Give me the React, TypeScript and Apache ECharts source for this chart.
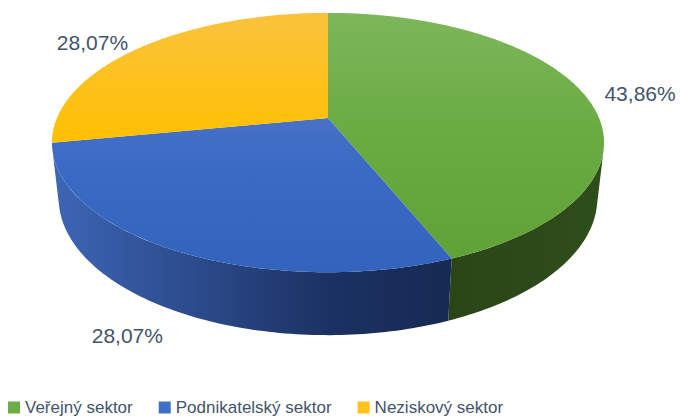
import React, { useEffect, useRef } from "react";
import * as echarts from "echarts";

const categories = ["Veřejný sektor", "Podnikatelský sektor", "Neziskový sektor"];
const values = [43.86, 28.07, 28.07];
const valueLabels = ["43,86%", "28,07%", "28,07%"];

const legendColors = ["#6AAE45", "#3F6FC6", "#FFC21A"];
const topStops = [
  [[0, "#7DB65B"], [0.45, "#6AAC42"], [1, "#5EA135"]],
  [[0, "#5D83CC"], [0.6, "#3B6AC4"], [1, "#3463BD"]],
  [[0, "#FAC33E"], [0.5, "#FFC000"], [1, "#E5AF00"]],
];
// side gradients, left to right
const sideStops = [
  [[0, "#2A4617"], [1, "#2E4E1B"]],
  [[0, "#3D66B6"], [0.7, "#1B3162"], [1, "#162A52"]],
  [[0, "#8A6A00"], [1, "#6A5000"]],
];

// projection (visual constants)
const CX = 328;
const CY = 118;
const FX = 1263;
const FY = 1241;
const PHI = (28 * Math.PI) / 180;
const SINP = Math.sin(PHI);
const COSP = Math.cos(PHI);
const DIST = 4.66;
const THICK = 0.239;

function project(theta: number, k: number, z: number): number[] {
  const X = k * Math.cos(theta);
  const Y = k * Math.sin(theta);
  const Z = DIST - Y * COSP - z * SINP;
  return [CX + (FX * X) / Z, CY + (FY * (Y * SINP - z * COSP)) / Z];
}

const TS = Math.asin(1 / (DIST * COSP));
const FRONT = [
  [TS, Math.PI - TS],
  [TS + 2 * Math.PI, 3 * Math.PI - TS],
];

function arcPts(a: number, b: number, z: number): number[][] {
  const n = Math.max(2, Math.ceil(((b - a) * 180) / Math.PI));
  const pts: number[][] = [];
  for (let i = 0; i <= n; i++) pts.push(project(a + ((b - a) * i) / n, 1, z));
  return pts;
}

export default function App() {
  const ref = useRef<HTMLDivElement>(null);
  useEffect(() => {
    document.body.style.margin = "0";
    const chart = echarts.init(ref.current!, null, { renderer: "svg" });
    const total = values.reduce((s, v) => s + v, 0);

    const series = categories.map((name, idx) => ({
      type: "custom",
      name,
      coordinateSystem: "none",
      itemStyle: { color: legendColors[idx] },
      data: [[values[idx]]],
      renderItem: (params: any, api: any) => {
        const before = values.slice(0, idx).reduce((s, v) => s + v, 0);
        const start = -Math.PI / 2 + (before / total) * 2 * Math.PI;
        const end = start + (api.value(0) / total) * 2 * Math.PI;
        const children: any[] = [];
        // visible outer side
        for (const [fa, fb] of FRONT) {
          const a = Math.max(start, fa);
          const b = Math.min(end, fb);
          if (b > a) {
            const topArc = arcPts(a, b, 0);
            const botArc = arcPts(a, b, -THICK).reverse();
            const xa = project(a, 1, 0)[0];
            const xb = project(b, 1, 0)[0];
            children.push({
              type: "polygon",
              z2: 1,
              shape: { points: topArc.concat(botArc) },
              style: {
                fill: new echarts.graphic.LinearGradient(
                  Math.min(xa, xb), 0, Math.max(xa, xb), 0,
                  sideStops[idx].map(([o, c]) => ({ offset: o as number, color: c as string })),
                  true
                ),
                stroke: null,
              },
            });
          }
        }
        // top face
        const centre = project(0, 0, 0);
        children.push({
          type: "polygon",
          z2: 10,
          shape: { points: [centre].concat(arcPts(start, end, 0)) },
          style: {
            fill: new echarts.graphic.LinearGradient(
              0, 13, 0, 272,
              topStops[idx].map(([o, c]) => ({ offset: o as number, color: c as string })),
              true
            ),
            stroke: null,
          },
        });
        // label
        const mid = (start + end) / 2;
        const front = Math.sin(mid) > 0;
        const p = project(mid, 1.08, front ? -THICK : 0);
        children.push({
          type: "text",
          z2: 20,
          x: p[0],
          y: p[1],
          style: {
            text: valueLabels[idx],
            fill: "#44546A",
            fontSize: 21,
            fontFamily: "Liberation Sans, Arial, sans-serif",
            align: Math.cos(mid) > 0 ? "left" : "right",
            verticalAlign: front ? "top" : "middle",
          },
        });
        return { type: "group", children };
      },
    }));

    chart.setOption({
      animation: false,
      legend: {
        data: categories,
        left: 8,
        top: 399,
        padding: 0,
        icon: "rect",
        itemWidth: 12,
        itemHeight: 12,
        itemGap: 26,
        textStyle: {
          fontFamily: "Liberation Sans, Arial, sans-serif",
          fontSize: 17,
          color: "#44546A",
        },
      },
      series,
    });
    return () => chart.dispose();
  }, []);
  return <div ref={ref} style={{ width: 681, height: 417 }} />;
}
